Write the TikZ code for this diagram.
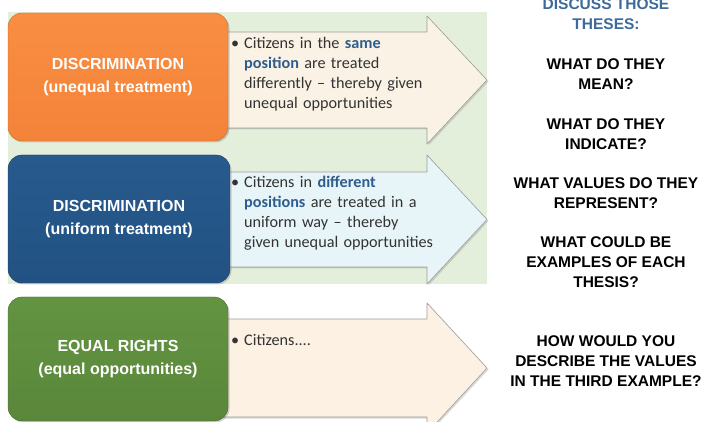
\documentclass[tikz,border=0pt]{standalone}
\usepackage{fontspec}
\usepackage{tkz-euclide}
\usetikzlibrary{shadows}
\setmainfont{Carlito}
\newfontfamily\headfont{Liberation Sans}
\definecolor{bgGreen}{HTML}{E3EFDA}
\definecolor{keyBlue}{HTML}{2F5D8E}
\definecolor{headBlue}{HTML}{3D6A98}
\definecolor{bodyGray}{HTML}{333333}
\definecolor{edgeGray}{HTML}{9C9C9C}
\definecolor{orangeTop}{HTML}{F98E42}
\definecolor{orangeBot}{HTML}{F4833A}
\definecolor{blueTop}{HTML}{285A8D}
\definecolor{blueBot}{HTML}{225284}
\definecolor{greenTop}{HTML}{639441}
\definecolor{greenBot}{HTML}{5A873B}
\definecolor{creamFill}{HTML}{FAF3E5}
\definecolor{iceFill}{HTML}{E8F5F8}
\definecolor{peachFill}{HTML}{FDF1E3}
\newcommand\keyword[1]{\textcolor{keyBlue}{\textbf{#1}}}
\newcommand\point[1]{\noindent\llap{\makebox[13pt][l]{\textbullet}}#1}
\tikzset{
  thesisbox/.style={rounded corners=14pt, inner sep=0pt, text=white, align=center,
    font=\headfont\bfseries\fontsize{16}{23}\selectfont,
    drop shadow={shadow xshift=1.5pt, shadow yshift=-1.5pt, opacity=0.35}},
  arrowshape/.style={draw=edgeGray, line width=0.6pt, fill=#1,
    drop shadow={shadow xshift=1.5pt, shadow yshift=-1.5pt, opacity=0.3}},
  pointtext/.style={anchor=north west, inner sep=0pt, text width=230pt, align=left,
    text=bodyGray, font=\fontsize{16.2}{20}\selectfont},
  question/.style={anchor=north, inner sep=0pt, align=center,
    font=\headfont\bfseries\fontsize{15.5}{19.7}\selectfont}
}

\begin{document}
\begin{tikzpicture}[x=1pt,y=-1pt]
            \useasboundingbox (0,0) rectangle (702,422);
            \fill[bgGreen] (8,12) rectangle (487,284);
            \tkzDefPoint(210,32){A1}
            \tkzDefPoint(427,32){A2}
            \tkzDefPoint(427,16){A3}
            \tkzDefPoint(487,80){A4}
            \tkzDefPoint(427,144){A5}
            \tkzDefPoint(427,128){A6}
            \tkzDefPoint(210,128){A7}
            \tkzDefPoint(210,172){B1}
            \tkzDefPoint(427,172){B2}
            \tkzDefPoint(427,155){B3}
            \tkzDefPoint(487,219.5){B4}
            \tkzDefPoint(427,284){B5}
            \tkzDefPoint(427,267){B6}
            \tkzDefPoint(210,267){B7}
            \tkzDefPoint(210,319){C1}
            \tkzDefPoint(427,319){C2}
            \tkzDefPoint(427,303){C3}
            \tkzDefPoint(487,368){C4}
            \tkzDefPoint(427,433){C5}
            \tkzDefPoint(427,417){C6}
            \tkzDefPoint(210,417){C7}
            \tkzDrawPolygon[arrowshape=creamFill](A1,A2,A3,A4,A5,A6,A7)
            \tkzDrawPolygon[arrowshape=iceFill](B1,B2,B3,B4,B5,B6,B7)
            \tkzDrawPolygon[arrowshape=peachFill](C1,C2,C3,C4,C5,C6,C7)
            \node[thesisbox, minimum width=220pt, minimum height=128pt, draw=orangeBot!80!black,
                top color=orangeTop, bottom color=orangeBot] (unequal) at (118,77)
                {DISCRIMINATION\\(unequal treatment)};
            \node[thesisbox, minimum width=222pt, minimum height=128pt, draw=blueBot!70!black,
                top color=blueTop, bottom color=blueBot] (uniform) at (119,219)
                {DISCRIMINATION\\(uniform treatment)};
            \node[thesisbox, minimum width=220pt, minimum height=124pt, draw=greenBot!75!black,
                top color=greenTop, bottom color=greenBot] (equal) at (118,359)
                {EQUAL RIGHTS\\(equal opportunities)};
            \node[pointtext] (unequalText) at (244,37) {\point{Citizens in the \keyword{same}\\
                \keyword{position} are treated\\ differently -- thereby given\\ unequal opportunities}};
            \node[pointtext] (uniformText) at (244,176) {\point{Citizens in \keyword{different}\\
                \keyword{positions} are treated in a\\ uniform way -- thereby\\ given unequal opportunities}};
            \node[pointtext] (equalText) at (244,334) {\point{Citizens....}};
            \node[question, text=headBlue] (discuss) at (606,-1.4) {DISCUSS THOSE\\THESES:};
            \node[question] (mean) at (606,58.6) {WHAT DO THEY\\MEAN?};
            \node[question] (indicate) at (606,118.6) {WHAT DO THEY\\INDICATE?};
            \node[question] (values) at (606,177.6) {WHAT VALUES DO THEY\\REPRESENT?};
            \node[question] (examples) at (606,236.6) {WHAT COULD BE\\EXAMPLES OF EACH\\THESIS?};
            \node[question] (third) at (606,335.6) {HOW WOULD YOU\\DESCRIBE THE VALUES\\IN THE THIRD EXAMPLE?};
        \end{tikzpicture}
\end{document}
